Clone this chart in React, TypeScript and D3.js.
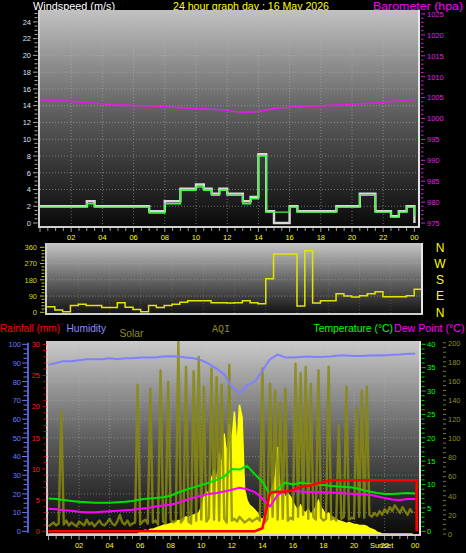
import React from 'react';
import * as d3 from 'd3';

// ---------- tick labels ----------
const hourLabelHours = [2, 4, 6, 8, 10, 12, 14, 16, 18, 20, 22, 24];
const hourLabels = ['02', '04', '06', '08', '10', '12', '14', '16', '18', '20', '22', '00'];
const windTicks = [0, 2, 4, 6, 8, 10, 12, 14, 16, 18, 20, 22, 24];
const baroTicks = [975, 980, 985, 990, 995, 1000, 1005, 1010, 1015, 1020, 1025];
const dirTicks = [0, 90, 180, 270, 360];
const compass = ['N', 'E', 'S', 'W', 'N'];
const humTicks = [0, 10, 20, 30, 40, 50, 60, 70, 80, 90, 100];
const rainTicks = [0, 5, 10, 15, 20, 25, 30];
const tempTicks = [0, 5, 10, 15, 20, 25, 30, 35, 40];
const solarTicks = [0, 20, 40, 60, 80, 100, 120, 140, 160, 180, 200];
const sunsetHour = 21.8;

// ---------- wind (half-hourly, t = 0 .. 24) ----------
const windGust = [2, 2, 2, 2, 2, 2, 2.6, 2, 2, 2, 2, 2, 2, 2, 1.4, 1.4, 2.6, 2.6, 4.1, 4.1, 4.6, 4.1, 3.5, 4.1,
  3.5, 3.5, 2.6, 3.1, 8.2, 1.4, 0, 0, 2, 1.4, 1.4, 1.4, 1.4, 1.4, 2, 2, 2, 3.5, 3.5, 1.4, 1.4, 0.8, 1.4, 2, 0];
const windAvg = [1.9, 1.9, 1.9, 1.9, 1.9, 1.9, 2.3, 1.9, 1.9, 1.9, 1.9, 1.9, 1.9, 1.9, 1.2, 1.2, 2.3, 2.3, 3.9, 3.9, 4.3, 3.9, 3.3, 3.9,
  3.3, 3.3, 2.3, 2.9, 8.0, 1.3, 1.3, 1.3, 1.9, 1.3, 1.3, 1.3, 1.3, 1.3, 1.9, 1.9, 1.9, 3.3, 3.3, 1.3, 1.3, 0.7, 1.3, 1.9, 0.8];
// wind direction (half-hourly, t = 0 .. 23.5)
const windDir = [31, 13, 3, 37, 44, 37, 37, 26, 26, 53, 28, 15, 3, 37, 26, 37, 44, 55, 64, 64, 64, 53, 53, 51,
  53, 64, 53, 47, 186, 323, 323, 323, 35, 341, 51, 64, 64, 103, 90, 85, 92, 103, 114, 86, 86, 86, 92, 127];
// barometer (hourly, t = 0 .. 24)
const baroHourly = [1004.4, 1004.3, 1004.1, 1003.8, 1003.5, 1003.3, 1003.1, 1003.0, 1002.8, 1002.6, 1002.4, 1002.2, 1001.9,
  1001.5, 1001.7, 1002.4, 1002.7, 1002.9, 1003.0, 1003.2, 1003.4, 1003.6, 1003.9, 1004.2, 1004.5];

// ---------- bottom panel (half-hourly, t = 0 .. 24) ----------
const humidity = [89, 90, 91, 91, 91.5, 92, 92, 92, 92.5, 92, 92.5, 92.5, 93, 93, 93, 93.5, 93.6, 93.5, 93, 92.5, 91.5, 89.5, 87, 84,
  77, 74, 78, 80, 86, 92, 94.5, 93, 93, 93.2, 93.5, 93.2, 93.3, 93.5, 94, 94, 93.8, 93.7, 94, 94.2, 94, 94.4, 94.6, 95, 95];
const temperature = [7.0, 6.9, 6.7, 6.5, 6.3, 6.2, 6.1, 6.1, 6.1, 6.2, 6.3, 6.5, 6.8, 7.0, 7.1, 7.3, 7.6, 8.3, 8.9, 9.4, 9.9, 10.4, 11.0, 11.7,
  13.3, 13.2, 14.0, 12.2, 10.6, 7.8, 9.0, 10.4, 10.0, 10.4, 10.2, 10.0, 9.9, 9.7, 9.6, 9.5, 9.3, 8.9, 8.5, 8.2, 8.0, 8.0, 8.1, 8.2, 8.1];
const dewPoint = [4.8, 4.7, 4.5, 4.4, 4.2, 4.1, 4.1, 4.2, 4.3, 4.4, 4.5, 4.6, 4.8, 5.0, 5.3, 5.5, 5.7, 6.1, 6.7, 7.2, 7.6, 8.0, 8.2, 8.5,
  8.9, 9.3, 9.0, 8.4, 7.0, 5.3, 7.8, 8.6, 8.6, 8.5, 8.4, 8.4, 8.3, 8.3, 8.2, 8.1, 8.0, 7.9, 7.8, 7.5, 7.1, 6.8, 6.7, 6.9, 6.9];
const rainfall = [0, 0, 0, 0, 0, 0, 0, 0, 0, 0, 0, 0, 0, 0, 0, 0, 0, 0, 0, 0, 0, 0, 0, 0, 0, 0, 0, 0,
  0.5, 6.2, 6.35, 6.35, 6.6, 7.15, 7.3, 7.6, 7.9, 8.2, 8.2, 8.2, 8.2, 8.2, 8.2, 8.2, 8.2, 8.2, 8.2, 8.2, 8.2];

// ---------- solar & AQI (10-minute, t = 0 .. 23 5/6) ----------
const solar = [
  0, 0, 0, 0, 0, 0, 0, 0, 0, 0, 0, 0, 0, 0, 0, 0, 0, 0, 0, 0, 0, 0, 0, 0, 0, 0, 0, 0, 0, 0, 0, 0, 0, 0, 0, 0,
  2, 3, 4, 3, 5, 5, 6, 7, 8, 9, 10, 10, 11, 12, 13, 14, 14, 16, 18, 17, 19, 20, 21, 22,
  28, 38, 45, 40, 58, 66, 52, 85, 70, 105, 80, 115, 95, 128, 90, 135, 122, 46, 35, 30,
  28, 25, 22, 18, 14, 20, 29, 40, 50, 60, 91, 40, 45, 38, 42, 39, 33, 28, 25, 30,
  24, 22, 26, 20, 24, 28, 35, 28, 24, 20, 22, 18, 17, 15, 14, 13, 12, 11, 12, 11,
  10, 10, 9, 9, 9, 8, 6, 5, 4, 2, 1, 0, 0, 0, 0, 0, 0, 0, 0, 0, 0, 0, 0, 0];
const aqi = [
  8, 10, 12, 9, 11, 128, 10, 14, 9, 12,
  10, 8, 13, 11, 9, 15, 10, 12, 8, 11,
  14, 10, 9, 12, 16, 11, 9, 13, 20, 12,
  10, 14, 9, 11, 12, 156, 10, 13, 15, 11,
  152, 12, 14, 10, 171, 13, 11, 159, 15, 12,
  14, 205, 12, 16, 175, 13, 11, 170, 14, 185,
  15, 154, 13, 17, 173, 15, 164, 14, 156, 16,
  12, 177, 14, 16, 13, 18, 15, 12, 14, 16,
  13, 15, 17, 14, 173, 12, 16, 157, 18, 150,
  15, 138, 16, 152, 14, 17, 15, 178, 18, 168,
  20, 175, 16, 157, 18, 15, 171, 17, 14, 16,
  175, 15, 17, 14, 114, 16, 18, 154, 15, 17,
  16, 132, 18, 150, 17, 154, 20, 18, 22, 19,
  24, 20, 26, 22, 28, 24, 30, 26, 22, 28,
  24, 20, 26, 22];

const FONT = "'Liberation Sans', Arial, sans-serif";

export default function App() {
  const halfHours = d3.range(0, 24.01, 0.5);
  const hours = d3.range(0, 24.01, 1);
  const tenMin = d3.range(0, 144).map((i) => i / 6);

  // scales
  const xTop = d3.scaleLinear([0, 24], [40, 414.4]);
  const yWind = d3.scaleLinear([0, 25], [223, 13.5]);
  const yBaro = d3.scaleLinear([975, 1025], [223, 14]);
  const xMid = d3.scaleLinear([0, 24], [47, 422]);
  const yDir = d3.scaleLinear([0, 360], [312.3, 247.3]);
  const xBot = d3.scaleLinear([0, 24], [48.5, 415.2]);
  const yHum = d3.scaleLinear([0, 100], [531.3, 344.3]);
  const yRain = d3.scaleLinear([0, 30], [531.3, 344.3]);
  const yTemp = d3.scaleLinear([0, 40], [531.3, 344.3]);
  const ySolar = d3.scaleLinear([0, 200], [534, 342.7]);

  // panel boxes
  const top = { x0: 40, x1: 419, y0: 10, y1: 226 };
  const mid = { x0: 47, x1: 422, y0: 243, y1: 313 };
  const bot = { x0: 48, x1: 420, y0: 341, y1: 534 };

  const stepLine = (xs: d3.ScaleLinear<number, number>, ys: d3.ScaleLinear<number, number>) =>
    d3.line<[number, number]>().x((d) => xs(d[0])).y((d) => ys(d[1])).curve(d3.curveStepAfter);
  const linLine = (xs: d3.ScaleLinear<number, number>, ys: d3.ScaleLinear<number, number>) =>
    d3.line<[number, number]>().x((d) => xs(d[0])).y((d) => ys(d[1]));

  const gustPath = stepLine(xTop, yWind)(halfHours.map((t, i) => [t, windGust[i]]));
  const avgPath = stepLine(xTop, yWind)(halfHours.map((t, i) => [t, windAvg[i]]));
  const baroPath = d3.line<[number, number]>().x((d) => xTop(d[0])).y((d) => yBaro(d[1])).curve(d3.curveMonotoneX)(
    hours.map((t, i) => [t, baroHourly[i]]));
  const dirPts: [number, number][] = windDir.map((v, i) => [i * 0.5, v]);
  dirPts.push([24, windDir[windDir.length - 1]]);
  const dirPath = stepLine(xMid, yDir)(dirPts);

  const humPath = linLine(xBot, yHum)(halfHours.map((t, i) => [t, humidity[i]]));
  const tempPath = linLine(xBot, yTemp)(halfHours.map((t, i) => [t, temperature[i]]));
  const dewPath = linLine(xBot, yTemp)(halfHours.map((t, i) => [t, dewPoint[i]]));
  const rainPath = linLine(xBot, yRain)(halfHours.map((t, i) => [t, rainfall[i]])) +
    `L${xBot(24) + 1.5},${yRain(rainfall[rainfall.length - 1])}L${xBot(24) + 1.5},${yRain(0)}`;
  const solarPath = d3.area<[number, number]>().x((d) => xBot(d[0])).y0(ySolar(0)).y1((d) => ySolar(d[1]))(
    tenMin.map((t, i) => [t, solar[i]]));
  const aqiPath = linLine(xBot, ySolar)(tenMin.map((t, i) => [t, aqi[i]]));

  const grid = '#b4b4b4';
  const dash = '1,2';
  const gridTimes = [2, 4, 6, 8, 10, 12, 14, 16, 18, 20, 22];

  const xTicks = (xs: d3.ScaleLinear<number, number>, y: number) =>
    halfHours.map((t) => (
      <line key={'xt' + t} x1={xs(t)} x2={xs(t)} y1={y} y2={y + (t % 2 === 0 ? 4 : 3)} stroke="#9a9a9a" strokeWidth={1} />
    ));

  const frame = (p: { x0: number; x1: number; y0: number; y1: number }, grad: string) => (
    <g>
      <rect x={p.x0} y={p.y0} width={p.x1 - p.x0} height={p.y1 - p.y0} fill={`url(#${grad})`} />
    </g>
  );
  const border = (p: { x0: number; x1: number; y0: number; y1: number }) => (
    <g fill="none" stroke="#cfcfcf" strokeWidth={2}>
      <line x1={p.x0 - 1} x2={p.x0 - 1} y1={p.y0} y2={p.y1 + 2} />
      <line x1={p.x0 - 2} x2={p.x1 + 1} y1={p.y1 + 1} y2={p.y1 + 1} />
      <line x1={p.x1} x2={p.x1} y1={p.y0} y2={p.y1 + 1} stroke="#e6e6e6" />
    </g>
  );

  return (
    <svg width={466} height={553} style={{ position: 'absolute', left: 0, top: 0, display: 'block' }} fontFamily={FONT}>
      <defs>
        <linearGradient id="gTop" x1="0" y1="0" x2="0" y2="1">
          <stop offset="0" stopColor="#c2c2c2" />
          <stop offset="0.5" stopColor="#5a5a5a" />
          <stop offset="1" stopColor="#0a0a0a" />
        </linearGradient>
        <linearGradient id="gMid" x1="0" y1="0" x2="0" y2="1">
          <stop offset="0" stopColor="#c6c6c6" />
          <stop offset="0.5" stopColor="#6a6a6a" />
          <stop offset="1" stopColor="#151515" />
        </linearGradient>
        <linearGradient id="gBot" x1="0" y1="0" x2="0" y2="1">
          <stop offset="0" stopColor="#cacaca" />
          <stop offset="0.5" stopColor="#5e5e5e" />
          <stop offset="1" stopColor="#0a0a0a" />
        </linearGradient>
        <clipPath id="cTop"><rect x={top.x0} y={top.y0} width={top.x1 - top.x0} height={top.y1 - top.y0 + 2} /></clipPath>
        <clipPath id="cMid"><rect x={mid.x0} y={mid.y0} width={mid.x1 - mid.x0} height={mid.y1 - mid.y0} /></clipPath>
        <clipPath id="cBot"><rect x={bot.x0} y={bot.y0} width={bot.x1 - bot.x0} height={bot.y1 - bot.y0} /></clipPath>
      </defs>
      <rect x={0} y={0} width={466} height={553} fill="#000" />

      {/* ---------------- headers ---------------- */}
      <text x={33} y={10} fill="#ffffff" fontSize={11} textLength={82} lengthAdjust="spacingAndGlyphs">Windspeed (m/s)</text>
      <text x={173} y={10} fill="#ffff00" fontSize={11} textLength={156} lengthAdjust="spacingAndGlyphs">24 hour graph day : 16 May 2026</text>
      <text x={373} y={10} fill="#ff00ff" fontSize={11} textLength={90} lengthAdjust="spacingAndGlyphs">Barometer (hpa)</text>

      {/* ---------------- top panel ---------------- */}
      {frame(top, 'gTop')}
      <g stroke={grid} strokeDasharray={dash} strokeOpacity={0.55} strokeWidth={1}>
        {windTicks.slice(1).map((v) => (
          <line key={'tg' + v} x1={top.x0} x2={top.x1} y1={yWind(v)} y2={yWind(v)} />
        ))}
        {gridTimes.map((t) => (
          <line key={'tv' + t} x1={xTop(t)} x2={xTop(t)} y1={top.y0} y2={top.y1} />
        ))}
      </g>
      <g clipPath="url(#cTop)" fill="none">
        <path d={baroPath || ''} stroke="#e020e0" strokeWidth={1.6} />
        <path d={gustPath || ''} stroke="#d8d8d8" strokeWidth={2.4} />
        <path d={avgPath || ''} stroke="#39ff39" strokeWidth={1.4} />
      </g>
      {border(top)}
      {/* left wind axis */}
      {d3.range(0, 25.01, 0.5).map((v) => (
        <line key={'wt' + v} x1={v % 2 === 0 ? 33 : 34.5} x2={37.5} y1={yWind(v)} y2={yWind(v)} stroke="#a8a8a8" strokeWidth={1} />
      ))}
      {windTicks.map((v) => (
        <text key={'wl' + v} x={31} y={yWind(v) + 2.8} fill="#d6e4ff" fontSize={7.5} textAnchor="end">{v}</text>
      ))}
      {/* right baro axis */}
      {d3.range(975, 1025.01, 1).map((v) => (
        <line key={'bt' + v} x1={421} x2={v % 5 === 0 ? 425 : 423.5} y1={yBaro(v)} y2={yBaro(v)} stroke="#d020d0" strokeWidth={1} />
      ))}
      {baroTicks.map((v) => (
        <text key={'bl' + v} x={427} y={yBaro(v) + 2.8} fill="#e020e0" fontSize={7.5}>{v}</text>
      ))}
      {xTicks(xTop, top.y1 + 2)}
      {hourLabelHours.map((h, i) => (
        <text key={'tx' + h} x={xTop(h)} y={240} fill="#ffff00" fontSize={7.5} textAnchor="middle">{hourLabels[i]}</text>
      ))}

      {/* ---------------- middle panel ---------------- */}
      {frame(mid, 'gMid')}
      <g stroke={grid} strokeDasharray={dash} strokeOpacity={0.55} strokeWidth={1}>
        {dirTicks.slice(1, 4).map((v) => (
          <line key={'mg' + v} x1={mid.x0} x2={mid.x1} y1={yDir(v)} y2={yDir(v)} />
        ))}
        {gridTimes.map((t) => (
          <line key={'mv' + t} x1={xMid(t)} x2={xMid(t)} y1={mid.y0} y2={mid.y1} strokeOpacity={0.25} />
        ))}
      </g>
      <g clipPath="url(#cMid)" fill="none">
        <path d={dirPath || ''} stroke="#e4e400" strokeWidth={1.5} />
      </g>
      {border(mid)}
      {d3.range(0, 360.01, 18).map((v) => (
        <line key={'dt' + v} x1={v % 90 === 0 ? 40 : 41.5} x2={44.5} y1={yDir(v)} y2={yDir(v)} stroke="#c8c800" strokeWidth={1} />
      ))}
      {dirTicks.map((v) => (
        <text key={'dl' + v} x={37} y={yDir(v) + 2.8} fill="#d8d800" fontSize={7.5} textAnchor="end">{v}</text>
      ))}
      {dirTicks.map((v, i) => (
        <text key={'cp' + v} x={440} y={yDir(v) + 4.3} fill="#ffff00" fontSize={12} textAnchor="middle">{compass[i]}</text>
      ))}

      {/* ---------------- bottom panel ---------------- */}
      <text x={0} y={332} fill="#ff0000" fontSize={11} textLength={60} lengthAdjust="spacingAndGlyphs">Rainfall (mm)</text>
      <text x={66.5} y={332} fill="#8c8cff" fontSize={11} textLength={39.5} lengthAdjust="spacingAndGlyphs">Humidity</text>
      <text x={119.5} y={337} fill="#8e8e20" fontSize={11} textLength={24} lengthAdjust="spacingAndGlyphs">Solar</text>
      <text x={212} y={331.5} fill="#8e8e20" fontSize={11} fontFamily="'Liberation Mono', monospace" textLength={18} lengthAdjust="spacingAndGlyphs">AQI</text>
      <text x={313.5} y={332} fill="#00ff00" fontSize={11} textLength={79.5} lengthAdjust="spacingAndGlyphs">Temperature (°C)</text>
      <text x={394} y={332} fill="#ff00ff" fontSize={11} textLength={70.5} lengthAdjust="spacingAndGlyphs">Dew Point (°C)</text>

      {frame(bot, 'gBot')}
      <g stroke={grid} strokeDasharray={dash} strokeOpacity={0.5} strokeWidth={1}>
        {humTicks.slice(1, 10).map((v) => (
          <line key={'bg' + v} x1={bot.x0} x2={bot.x1} y1={yHum(v)} y2={yHum(v)} />
        ))}
        {gridTimes.map((t) => (
          <line key={'bv' + t} x1={xBot(t)} x2={xBot(t)} y1={bot.y0} y2={bot.y1} />
        ))}
      </g>
      <g clipPath="url(#cBot)" fill="none">
        <path d={solarPath || ''} fill="#ffff00" stroke="#ffff00" strokeWidth={1.5} />
        <path d={aqiPath || ''} stroke="#8a8a10" strokeOpacity={0.85} strokeWidth={2.4} strokeLinejoin="round" />
        <path d={humPath || ''} stroke="#8080ff" strokeWidth={2} />
        <path d={dewPath || ''} stroke="#ff00ff" strokeWidth={2} />
        <path d={tempPath || ''} stroke="#00e000" strokeWidth={2} />
        <path d={rainPath} stroke="#ff0000" strokeWidth={2.6} />
      </g>
      {border(bot)}
      {/* humidity axis */}
      <line x1={28} x2={28} y1={yHum(0) + 1.5} y2={yHum(100) - 1.5} stroke="#6a78ff" strokeWidth={1.6} />
      {d3.range(0, 100.01, 2.5).map((v) => (
        <line key={'ht' + v} x1={v % 10 === 0 ? 22 : 23.5} x2={27} y1={yHum(v)} y2={yHum(v)} stroke="#6a78ff" strokeWidth={1} />
      ))}
      {humTicks.map((v) => (
        <text key={'hl' + v} x={21} y={yHum(v) + 2.8} fill="#6a7cff" fontSize={7.5} textAnchor="end">{v}</text>
      ))}
      {/* rain axis */}
      {d3.range(0, 30.01, 1).map((v) => (
        <line key={'rt' + v} x1={v % 5 === 0 ? 42.5 : 43.5} x2={46.5} y1={yRain(v)} y2={yRain(v)} stroke="#e00000" strokeWidth={1} />
      ))}
      {rainTicks.map((v) => (
        <text key={'rl' + v} x={40} y={yRain(v) + 2.8} fill="#ff1a1a" fontSize={7.5} textAnchor="end">{v}</text>
      ))}
      {/* temperature axis */}
      {d3.range(0, 40.01, 1).map((v) => (
        <line key={'ct' + v} x1={421.5} x2={v % 5 === 0 ? 425.5 : 424.5} y1={yTemp(v)} y2={yTemp(v)} stroke="#00d000" strokeWidth={1} />
      ))}
      {tempTicks.map((v) => (
        <text key={'cl' + v} x={427} y={yTemp(v) + 2.8} fill="#00ff00" fontSize={7.5}>{v}</text>
      ))}
      {/* solar axis */}
      {d3.range(0, 200.01, 5).map((v) => (
        <line key={'st' + v} x1={443} x2={446} y1={ySolar(v)} y2={ySolar(v)} stroke="#7a7a10" strokeWidth={1} />
      ))}
      {solarTicks.map((v) => (
        <text key={'sl' + v} x={448} y={ySolar(v) + 2.8} fill="#8e8e20" fontSize={7.5}>{v}</text>
      ))}
      {xTicks(xBot, bot.y1 + 2)}
      {hourLabelHours.map((h, i) => (
        <text key={'bx' + h} x={xBot(h)} y={548} fill="#ffff00" fontSize={7.5} textAnchor="middle">{hourLabels[i]}</text>
      ))}
      <text x={xBot(sunsetHour)} y={548} fill="#ffff60" fontSize={7.5} textAnchor="middle">Sunset</text>
    </svg>
  );
}
